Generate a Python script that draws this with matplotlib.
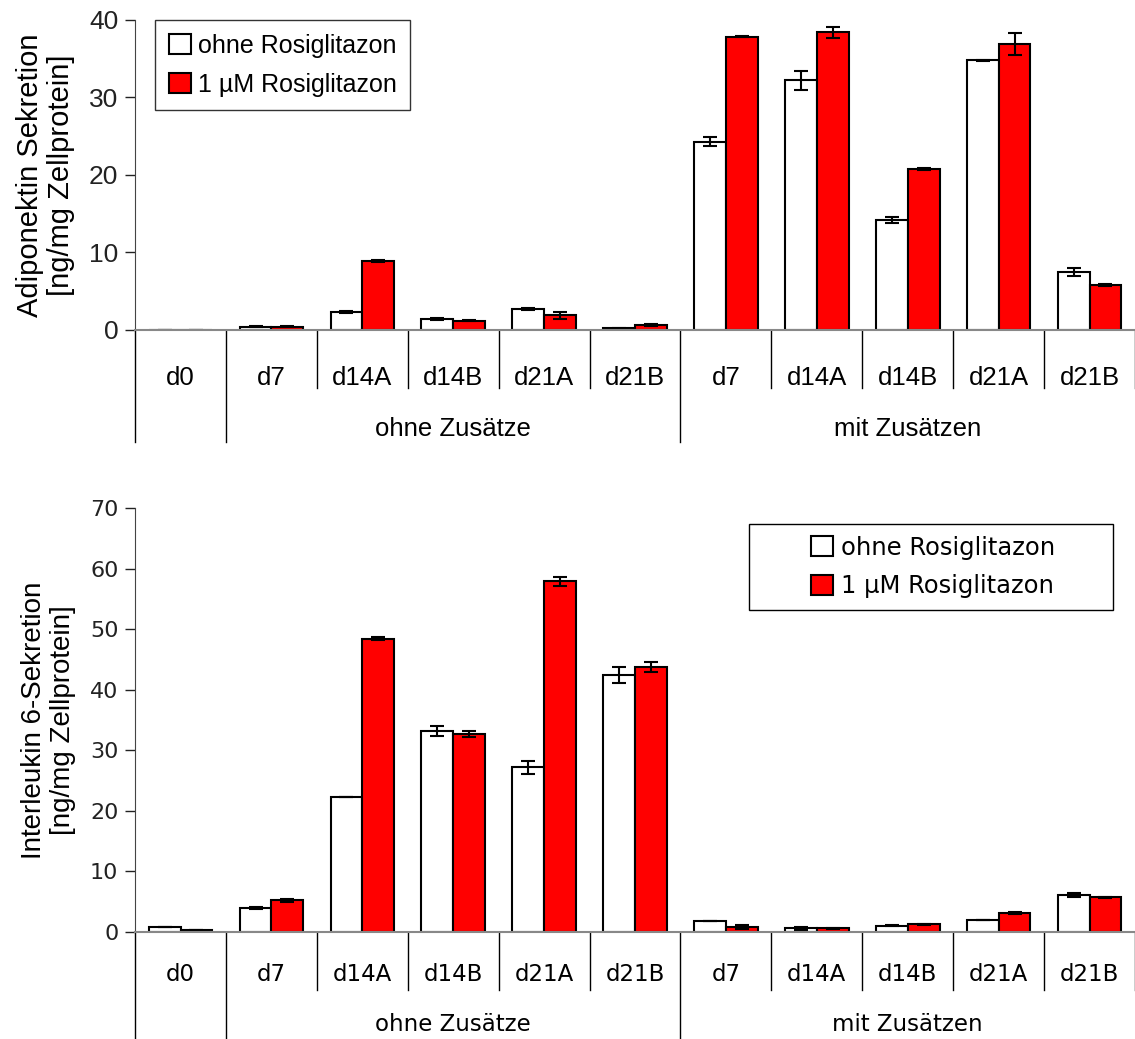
import numpy as np
import matplotlib.pyplot as plt
from matplotlib.patches import Rectangle

# Kategorien
tage = ['d0', 'd7', 'd14A', 'd14B', 'd21A', 'd21B', 'd7', 'd14A', 'd14B', 'd21A', 'd21B']
gruppen = ['ohne Zusätze', 'mit Zusätzen']

# Adiponektin [ng/mg Zellprotein]
adipo_ohne = [0.0, 0.4, 2.3, 1.4, 2.7, 0.2, 24.3, 32.2, 14.2, 34.8, 7.5]
adipo_ohne_err = [0.0, 0.05, 0.15, 0.1, 0.1, 0.1, 0.6, 1.2, 0.4, 0.05, 0.55]
adipo_rosi = [0.0, 0.4, 8.9, 1.2, 1.9, 0.6, 37.85, 38.4, 20.8, 36.9, 5.8]
adipo_rosi_err = [0.0, 0.05, 0.15, 0.05, 0.45, 0.15, 0.05, 0.75, 0.15, 1.4, 0.1]

# Interleukin 6 [ng/mg Zellprotein]
il6_ohne = [0.8, 4.0, 22.3, 33.2, 27.2, 42.4, 1.8, 0.6, 1.05, 2.0, 6.1]
il6_ohne_err = [0.05, 0.2, 0.05, 0.85, 1.1, 1.3, 0.05, 0.3, 0.05, 0.05, 0.3]
il6_rosi = [0.3, 5.2, 48.4, 32.7, 57.9, 43.8, 0.85, 0.6, 1.3, 3.1, 5.7]
il6_rosi_err = [0.05, 0.25, 0.25, 0.45, 0.8, 0.85, 0.3, 0.05, 0.1, 0.2, 0.05]

plt.rcParams['font.family'] = ['Liberation Sans', 'DejaVu Sans']

fig = plt.figure(figsize=(11.35, 10.39), dpi=100)

x = np.arange(len(tage))
breite = 0.35
farbe_rot = '#ff0000'


def panel(ax, ohne, ohne_err, rosi, rosi_err, ymax, step, ylabel, sep_in, sep_out,
          lab_y, grp_y, fam, fs_tick, fs_lab, fs_y):
    ax.bar(x - breite / 2, ohne, breite, color='white', edgecolor='black', linewidth=1.5,
           yerr=ohne_err, capsize=5, error_kw=dict(elinewidth=1.5, capthick=1.5, ecolor='black'),
           label='ohne Rosiglitazon', zorder=2)
    ax.bar(x + breite / 2, rosi, breite, color=farbe_rot, edgecolor='black', linewidth=1.5,
           yerr=rosi_err, capsize=5, error_kw=dict(elinewidth=1.5, capthick=1.5, ecolor='black'),
           label='1 µM Rosiglitazon', zorder=2)
    ax.set_xlim(-0.5, len(tage) - 0.5)
    ax.set_ylim(0, ymax)
    ax.set_yticks(np.arange(0, ymax + 1, step))
    ax.tick_params(axis='y', direction='out', length=7, width=1, labelsize=fs_tick,
                   colors='#222222', pad=5)
    for t in ax.get_yticklabels():
        t.set_family(fam)
    ax.set_xticks([])
    for s in ['top', 'right']:
        ax.spines[s].set_visible(False)
    ax.spines['left'].set_color('#444444')
    ax.spines['bottom'].set_color('#888888')
    ax.spines['bottom'].set_linewidth(1.5)
    ax.set_ylabel(ylabel, fontsize=fs_y, linespacing=1.15, labelpad=10)

    tr = ax.get_xaxis_transform()
    # Trennlinien unter der Achse
    for i in range(len(tage) + 1):
        gx = i - 0.5
        unten = sep_out if i in (0, 1, 6) else sep_in
        ax.plot([gx, gx], [0, unten], color='black', lw=1, transform=tr, clip_on=False)
    for i, t in enumerate(tage):
        ax.text(i, lab_y, t, ha='center', va='center', fontsize=fs_lab, family=fam, transform=tr)
    ax.text(3, grp_y, gruppen[0], ha='center', va='center', fontsize=fs_lab, family=fam, transform=tr)
    ax.text(8, grp_y, gruppen[1], ha='center', va='center', fontsize=fs_lab, family=fam, transform=tr)


ax1 = fig.add_axes([0.119, 0.6824, 0.881, 0.2984])
panel(ax1, adipo_ohne, adipo_ohne_err, adipo_rosi, adipo_rosi_err, 40, 10,
      'Adiponektin Sekretion\n[ng/mg Zellprotein]', -0.187, -0.361, -0.155, -0.32,
      'Liberation Sans', 19, 18.5, 21)
leg1 = ax1.legend(loc='upper left', bbox_to_anchor=(0.02, 1.0), borderaxespad=0,
                  prop=dict(family='Liberation Sans', size=18),
                  frameon=True, fancybox=False, edgecolor='black', handlelength=0.9,
                  handleheight=0.9, handletextpad=0.25, borderpad=0.55, labelspacing=0.6)
leg1.get_frame().set_linewidth(1)

ax2 = fig.add_axes([0.119, 0.103, 0.881, 0.408])
panel(ax2, il6_ohne, il6_ohne_err, il6_rosi, il6_rosi_err, 70, 10,
      'Interleukin 6-Sekretion\n[ng/mg Zellprotein]', -0.137, -0.252, -0.101, -0.219,
      'DejaVu Sans', 16, 16.5, 20)
# Legendenrahmen unten breiter als der Inhalt
ax2.add_patch(Rectangle((0.614, 0.759), 0.364, 0.203, transform=ax2.transAxes,
                        facecolor='white', edgecolor='black', linewidth=1, zorder=4,
                        clip_on=False))
leg2 = ax2.legend(loc='center', bbox_to_anchor=(0.798, 0.861), frameon=False,
                  prop=dict(family='DejaVu Sans', size=17.5), handlelength=0.9,
                  handleheight=0.9, handletextpad=0.3, labelspacing=0.6)
leg2.set_zorder(5)

fig.savefig('out.png', dpi=100)
